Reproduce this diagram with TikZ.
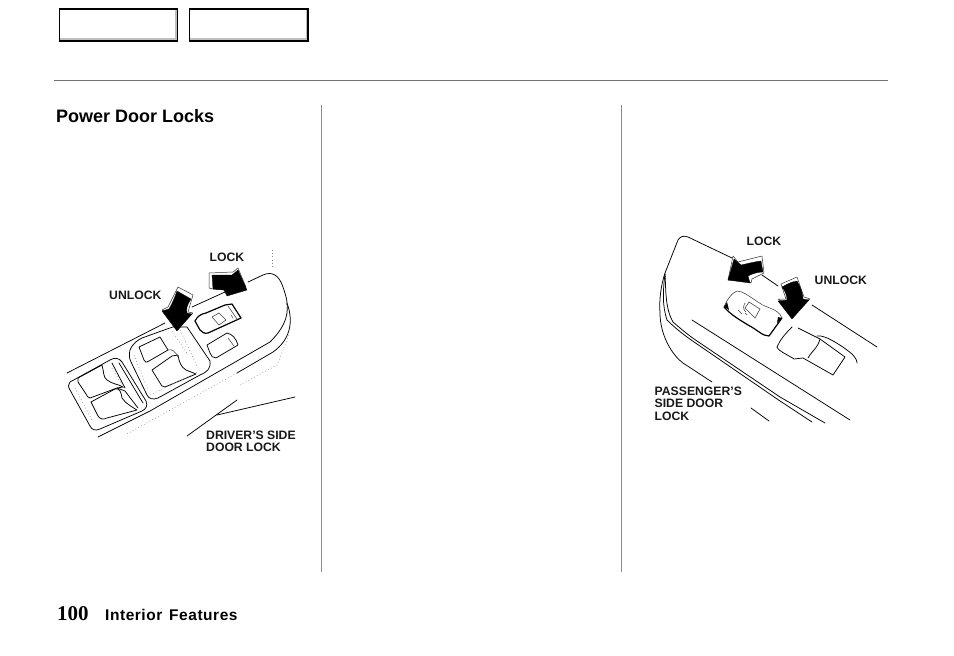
\documentclass[tikz,border=0pt]{standalone}
\usepackage{fontspec}
\setmainfont{Liberation Sans}
\newfontfamily\serifnum{Liberation Serif}
\newfontfamily\spacedsans[BoldFont={Liberation Sans Bold},LetterSpace=3.5,WordSpace=1.4]{Liberation Sans}
\tikzset{
  navbox/.style={draw=black,line width=1.7pt,fill=white},
  navshade/.style={fill=black!25},
  rulegrey/.style={draw=black!55,line width=0.9pt},
  colrule/.style={draw=black!45,line width=0.8pt},
  ink/.style={draw=black,line width=0.75pt,line join=round,line cap=round},
  heavy/.style={draw=black,line width=1.2pt,line join=round,line cap=round},
  fineink/.style={draw=black!75,line width=0.55pt,line cap=round},
  speck/.style={draw=black!45,line width=0.6pt,dash pattern=on 0.8pt off 2.4pt},
  arrowblk/.style={fill=black,draw=black,line width=0.3pt,line join=round},
  arrowface/.style={fill=white,draw=black!80,line width=0.5pt,line join=round},
  lab/.style={font=\bfseries\fontsize{12.2}{12.6}\selectfont,anchor=north west,inner sep=0pt,align=left,text=black!90},
}
\begin{document}
\begin{tikzpicture}[x=1pt,y=-1pt]
\useasboundingbox (0,0) rectangle (954,656);
\fill[white] (0,0) rectangle (954,656);
% nav boxes
\draw[navbox] (59.5,8.8) rectangle (177.5,41.2);
\draw[navbox] (189.5,8.8) rectangle (308,41.2);
\fill[navshade] (60.4,38.4) rectangle (176.6,40.3);
\fill[navshade] (175,9.7) rectangle (176.6,40.3);
\fill[navshade] (190.4,38.4) rectangle (307.1,40.3);
\fill[navshade] (305.5,9.7) rectangle (307.1,40.3);
% rules
\draw[rulegrey] (54,80.5) -- (888,80.5);
\draw[colrule] (321.5,105) -- (321.5,572);
\draw[colrule] (621.5,105) -- (621.5,572);
% texts
\node[font=\bfseries\fontsize{18}{18}\selectfont,anchor=base west,inner sep=0pt] (title) at (56,122) {Power Door Locks};
\node[font=\serifnum\bfseries\fontsize{21}{21}\selectfont,anchor=base west,inner sep=0pt] (page) at (57,620.5) {100};
\node[font=\spacedsans\bfseries\fontsize{15.5}{16}\selectfont,anchor=base west,inner sep=0pt] (sec) at (105,620) {Interior Features};

% ===== left illustration =====
\draw[ink] (67,373) -- (165,323);
\draw[ink] (192,307) -- (225,292);
\draw[ink] (248,282) -- (263,275) .. controls (272,271) and (279,275) .. (283,287) .. controls (286,296) and (287,300) .. (287,303) .. controls (289,318) and (282,330) .. (270,342) -- (150,411) -- (98,437);
\draw[ink] (287,303) .. controls (294,322) and (290,340) .. (273,352) -- (237,373);
\draw[speck] (237,373) -- (125,435);
\draw[speck] (289,335) -- (277,365) -- (240,385);
\draw[ink] (187,436) -- (237,400);
\draw[ink] (217,415) -- (295,397);
\draw[speck] (272,250) -- (272,268);
% left switch panel
\draw[ink] (70,382) -- (110,360) .. controls (115,357) and (119,358) .. (122,362) -- (146,401) .. controls (148,406) and (146,409) .. (142,411) -- (100,429) .. controls (95,431) and (92,430) .. (90,426) -- (70,390) .. controls (68,387) and (68,384) .. (70,382) -- cycle;
\draw[ink] (78,378) -- (102,365) .. controls (104,372) and (103,377) .. (107,380) .. controls (112,384) and (118,384) .. (123,387) -- (117,388) -- (90,398) .. controls (88,398) and (87,396) .. (86,394) -- (78,382) -- cycle;
\draw[ink] (91,402) -- (115,389) .. controls (120,388) and (121,392) .. (122,398) .. controls (125,403) and (132,407) .. (137,410) -- (107,418) .. controls (103,420) and (100,419) .. (98,416) -- cycle;
\draw[ink] (117,388) -- (125,391) -- (138,408);
\draw[ink] (112,363) -- (125,388);
\draw[ink] (119,363) -- (143,403);
\draw[speck] (75,388) -- (93,422);
\draw[speck] (112,368) -- (125,390);
% centre switch panel
\draw[ink] (130,350) .. controls (133,343) and (138,340) .. (142,338) -- (167,329) -- (173,327) -- (187,327) -- (210,361) .. controls (211,369) and (207,372) .. (200,375) -- (158,398) .. controls (153,400) and (149,399) .. (147,395) -- (131,362) .. controls (129,358) and (129,354) .. (130,350) -- cycle;
\draw[ink] (139,347) -- (160,337) -- (168,350) -- (149,361) .. controls (146,363) and (145,362) .. (144,360) -- cycle;
\draw[ink] (152,370) -- (172,356) -- (178,355) .. controls (179,362) and (181,367) .. (186,370) -- (196,374) -- (165,387) .. controls (162,387) and (161,385) .. (160,383) -- cycle;
\draw[fineink] (168,350) .. controls (172,349) and (175,351) .. (178,357);
\draw[speck] (172,331) -- (188,355);
\draw[speck] (180,330) -- (198,368);
\draw[speck] (134,355) -- (148,390);
\draw[speck] (150,395) -- (198,372);
% window rockers
\draw[heavy] (195,321) .. controls (198,315) and (202,314) .. (206,313) -- (225,305) -- (232,304) -- (241,318) -- (208,333) .. controls (204,334) and (202,332) .. (200,330) -- cycle;
\draw[fineink] (228,306) -- (237,319);
\draw[fineink] (212,317) -- (219,325) -- (226,320) -- (219,313) -- cycle;
\draw[fineink] (231,315) -- (233,318);
\draw[ink] (207,345) -- (227,333) .. controls (232,334) and (236,338) .. (238,345) -- (216,358) .. controls (213,358) and (211,356) .. (210,353) -- cycle;
\draw[fineink] (228,338) -- (234,346);
% left arrows
\draw[arrowface] (209,273) -- (233,272) -- (238,268) -- (246,287) -- (225,290) -- (213,289) -- (209,288) -- cycle;
\draw[arrowblk] (212,275) -- (232,275) -- (238,270) -- (247,290) -- (227,296) -- (224,290) -- (213,289) -- cycle;
\draw[arrowface] (178,287) -- (193,295) -- (188,312) -- (193,313) -- (186,320) -- (165,312) -- (162,310) -- (168,307) -- cycle;
\draw[arrowblk] (177,291) -- (191,299) .. controls (187,305) and (186,309) .. (187,313) -- (192,314) -- (177,331) -- (162,311) -- (169,309) .. controls (172,304) and (175,297) .. (177,291) -- cycle;
\node[lab] (lockA) at (209.5,252.5) {LOCK};
\node[lab] (unlockA) at (109,290.5) {UNLOCK};
\node[lab] (driver) at (206,430.5) {DRIVER\symbol{39}S SIDE\\DOOR LOCK};

% ===== right illustration =====
\draw[ink] (732,258) -- (688,237) .. controls (683,235) and (680,237) .. (678,240) -- (665,273) .. controls (661,285) and (659,300) .. (660,313) .. controls (660,335) and (672,355) .. (683,363) -- (712,382);
\draw[ink] (665,274) .. controls (663,290) and (662,305) .. (667,320) .. controls (675,328) and (685,336) .. (697,344) -- (780,401) -- (812,422);
\draw[ink] (665,274) .. controls (666,290) and (665,308) .. (673,322) .. controls (680,328) and (688,335) .. (697,341) -- (780,397) -- (825,423);
\draw[ink] (692,320) -- (850,420);
\draw[ink] (751,408) -- (769,421);
\draw[ink] (762,275) -- (778,286);
\draw[ink] (812,305) -- (877,347);
% upper rocker
\draw[fineink] (724,307) .. controls (727,299) and (733,292) .. (737,291) .. controls (743,291) and (750,297) .. (758,302) .. controls (767,309) and (778,308) .. (782,318);
\draw[heavy] (782,318) -- (769,336) .. controls (762,336) and (758,330) .. (748,325) .. controls (740,320) and (731,315) .. (724,307);
\fill[black] (724,307) -- (727,302) -- (729,310) -- cycle;
\fill[black] (782,318) -- (778,317) -- (777,323) -- cycle;
\draw[fineink] (745,308) -- (749,302) -- (760,309) -- (755,318) -- cycle;
\draw[fineink] (745,303) .. controls (743,306) and (743,310) .. (746,312);
\draw[fineink] (738,310) -- (742,314) (745,313) -- (747,315);
% lower rocker
\draw[ink] (792,327) .. controls (785,334) and (780,340) .. (777,347) .. controls (778,351) and (790,356) .. (794,359) -- (803,358) -- (833,375) -- (845,357) -- (820,339) -- (798,328);
\draw[ink] (820,339) .. controls (818,348) and (810,353) .. (808,358);
\draw[ink] (817,336) .. controls (825,334) and (845,348) .. (852,354) .. controls (856,358) and (857,361) .. (857,363);
% right arrows
\draw[arrowface] (733,256) -- (738,262) -- (762,256) -- (764,273) -- (752,279) -- (751,283) -- (747,280) -- (728,280) -- cycle;
\draw[arrowblk] (761,261) .. controls (753,262) and (746,264) .. (741,265) -- (734,259) -- (728,280) -- (750,283) -- (748,276) .. controls (752,274) and (757,272) .. (763,272) -- cycle;
\draw[arrowface] (797,277) -- (781,284) -- (786,299) -- (778,299) -- (786,305) -- (803,303) -- (810,299) -- (804,297) -- cycle;
\draw[arrowblk] (797,281) .. controls (790,282) and (786,285) .. (782,287) .. controls (785,291) and (787,295) .. (787,300) -- (778,301) -- (792,319) -- (809,300) -- (803,299) .. controls (803,293) and (800,286) .. (797,281) -- cycle;
\node[lab] (lockB) at (746.5,236.5) {LOCK};
\node[lab] (unlockB) at (814.5,275.5) {UNLOCK};
\node[lab] (pass) at (654.5,386.5) {PASSENGER\symbol{39}S\\SIDE DOOR\\LOCK};
\end{tikzpicture}
\end{document}
